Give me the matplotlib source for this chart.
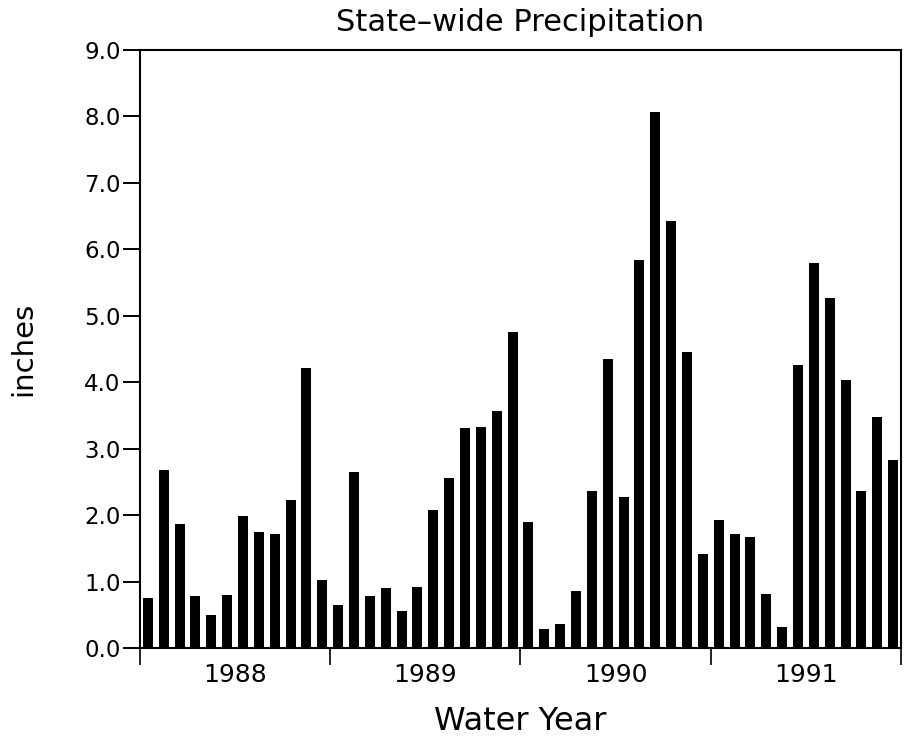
import matplotlib
matplotlib.use("Agg")
import matplotlib.pyplot as plt
import numpy as np

years = ["1988", "1989", "1990", "1991"]
precip = [
    0.76, 2.68, 1.86, 0.78, 0.50, 0.80, 1.98, 1.75, 1.72, 2.22, 4.21, 1.02,
    0.65, 2.65, 0.78, 0.90, 0.55, 0.92, 2.07, 2.56, 3.31, 3.32, 3.57, 4.75,
    1.89, 0.28, 0.36, 0.86, 2.36, 4.35, 2.28, 5.84, 8.07, 6.43, 4.46, 1.42,
    1.93, 1.71, 1.67, 0.82, 0.32, 4.26, 5.79, 5.27, 4.04, 2.37, 3.48, 2.83,
]
yticks = [0, 1, 2, 3, 4, 5, 6, 7, 8, 9]

fig = plt.figure(figsize=(9.06, 7.45), dpi=100)
ax = fig.add_axes([0.1545, 0.1302, 0.8400, 0.8027])

x = np.arange(len(precip)) + 0.5
ax.bar(x, precip, width=0.63, color="black", edgecolor="none")

ax.set_xlim(0, len(precip))
ax.set_ylim(0, 9)

ax.set_yticks(yticks)
ax.set_yticklabels([f"{v:.1f}" for v in yticks], fontsize=16.5)
ax.tick_params(axis="y", direction="out", length=12, width=1.4, pad=2, right=False)

n = len(years)
ax.set_xticks([12 * i for i in range(n + 1)])
ax.set_xticklabels([])
ax.set_xticks([12 * i + 6 for i in range(n)], minor=True)
ax.set_xticklabels(years, minor=True, fontsize=18)
ax.tick_params(axis="x", which="major", direction="out", length=12, width=1.2)
ax.tick_params(axis="x", which="minor", length=0, pad=10.5)

for s in ax.spines.values():
    s.set_linewidth(1.5)

ax.set_title("State–wide Precipitation", fontsize=22, pad=14)
ax.set_xlabel("Water Year", fontsize=23, labelpad=14)
ax.set_ylabel("inches", fontsize=21, labelpad=34)

fig.savefig("out.png", dpi=100)
